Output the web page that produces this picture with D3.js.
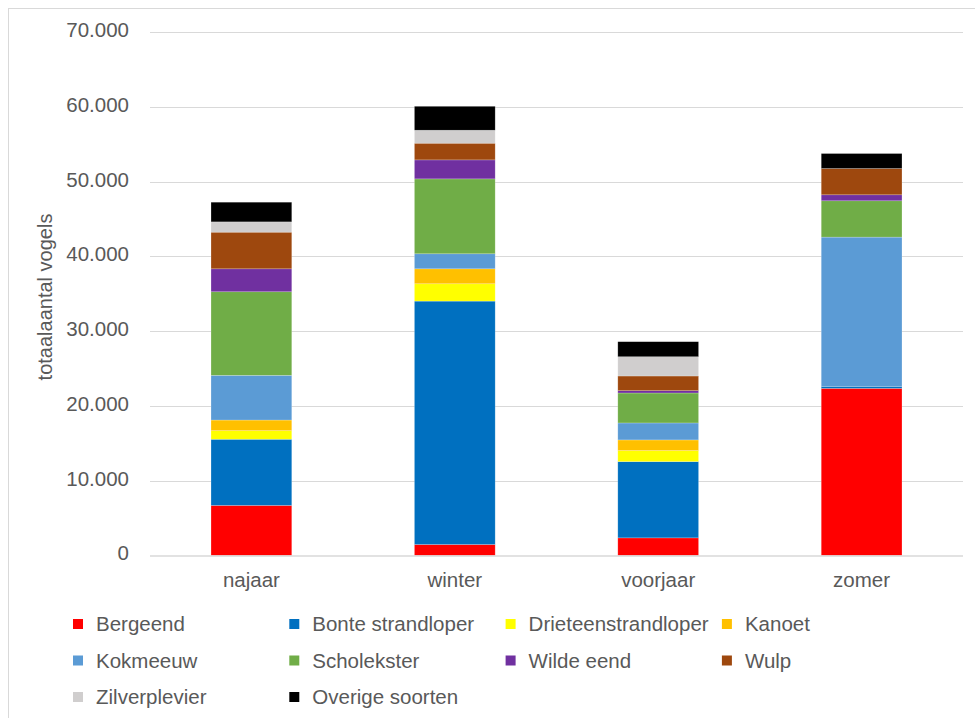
<!DOCTYPE html>
<html>
<head>
<meta charset="utf-8">
<script src="https://cdn.jsdelivr.net/npm/d3@7"></script>
<style>
  html, body { margin: 0; padding: 0; background: #fff; }
  svg { display: block; font-family: "Liberation Sans", Arial, sans-serif; }
</style>
</head>
<body>
<svg id="chart" width="975" height="718"></svg>
<script>
// Seizoenen en soorten
const seasons = ["najaar", "winter", "voorjaar", "zomer"];
const species = ["Bergeend", "Bonte strandloper", "Drieteenstrandloper", "Kanoet",
  "Kokmeeuw", "Scholekster", "Wilde eend", "Wulp", "Zilverplevier", "Overige soorten"];

// Aantallen per soort, in de volgorde van de seizoenen
const bergeend          = [6700, 1470, 2360, 22360];
const bonteStrandloper  = [8850, 32560, 10200, 270];
const drieteen          = [1150, 2320, 1470, 0];
const kanoet            = [1420, 2000, 1430, 0];
const kokmeeuw          = [5980, 2010, 2270, 19960];
const scholekster       = [11180, 10020, 4010, 4860];
const wildeEend         = [3070, 2540, 310, 800];
const wulp              = [4900, 2230, 1960, 3520];
const zilverplevier     = [1380, 1740, 2580, 0];
const overigeSoorten    = [2630, 3200, 2010, 2000];

const yTicks = [0, 10000, 20000, 30000, 40000, 50000, 60000, 70000];

const seriesValues = [bergeend, bonteStrandloper, drieteen, kanoet, kokmeeuw,
  scholekster, wildeEend, wulp, zilverplevier, overigeSoorten];

const colors = ["#FF0000", "#0070C0", "#FFFF00", "#FFC000", "#5B9BD5",
  "#70AD47", "#7030A0", "#9E480E", "#D0CECE", "#000000"];

// Tabel voor d3.stack
const table = seasons.map((s, i) => {
  const row = { season: s };
  species.forEach((sp, j) => { row[sp] = seriesValues[j][i]; });
  return row;
});

const svg = d3.select("#chart");
const textColor = "#595959";
const gridColor = "#d9d9d9";

// Kader rond de grafiek
svg.append("rect")
  .attr("x", 8.5).attr("y", 8.5)
  .attr("width", 975).attr("height", 718)
  .attr("fill", "none").attr("stroke", gridColor).attr("stroke-width", 1);

const x = d3.scaleBand().domain(seasons).range([150, 963]).paddingInner(0.603).paddingOuter(0.3);
const y = d3.scaleLinear().domain([0, 70000]).range([555.5, 32.2]);

const nl = d3.formatLocale({ decimal: ",", thousands: ".", grouping: [3], currency: ["€", ""] });
const fmt = nl.format(",");

// Rasterlijnen
svg.append("g").selectAll("line")
  .data(yTicks.filter(d => d > 0))
  .join("line")
  .attr("x1", 150).attr("x2", 963)
  .attr("y1", d => Math.round(y(d)) + 0.5).attr("y2", d => Math.round(y(d)) + 0.5)
  .attr("stroke", gridColor).attr("stroke-width", 1.2);

// Y-as labels
svg.append("g").selectAll("text")
  .data(yTicks)
  .join("text")
  .attr("x", 129).attr("y", d => y(d) + 4.8)
  .attr("text-anchor", "end")
  .attr("font-size", 20.5)
  .attr("fill", textColor)
  .text(d => fmt(d));

// Gestapelde staven
const stack = d3.stack().keys(species);
const layers = stack(table);

svg.append("g").selectAll("g")
  .data(layers)
  .join("g")
  .attr("fill", (d, i) => colors[i])
  .selectAll("rect")
  .data(d => d)
  .join("rect")
  .attr("x", d => x(d.data.season))
  .attr("width", x.bandwidth())
  .attr("y", d => y(d[1]))
  .attr("height", d => Math.max(0, y(d[0]) - y(d[1])))
  .attr("stroke", "#ffffff").attr("stroke-opacity", 0.35).attr("stroke-width", 0.6);

// X-as lijn
svg.append("line")
  .attr("x1", 150).attr("x2", 963)
  .attr("y1", y(0) + 0.5).attr("y2", y(0) + 0.5)
  .attr("stroke", gridColor).attr("stroke-width", 1.6);

// Categorielabels
svg.append("g").selectAll("text")
  .data(seasons)
  .join("text")
  .attr("x", d => x(d) + x.bandwidth() / 2)
  .attr("y", 587)
  .attr("text-anchor", "middle")
  .attr("font-size", 20.5)
  .attr("fill", textColor)
  .text(d => d);

// Y-as titel
svg.append("text")
  .attr("transform", "translate(52,297) rotate(-90)")
  .attr("text-anchor", "middle")
  .attr("font-size", 20)
  .attr("fill", textColor)
  .text("totaalaantal vogels");

// Legenda
const legend = svg.append("g");
const item = legend.selectAll("g")
  .data(species)
  .join("g")
  .attr("transform", (d, i) => `translate(${73 + (i % 4) * 216.3},${624 + Math.floor(i / 4) * 36.5})`);

item.append("rect")
  .attr("x", 0).attr("y", -5)
  .attr("width", 10).attr("height", 10)
  .attr("fill", (d, i) => colors[i]);

item.append("text")
  .attr("x", 23).attr("y", 7)
  .attr("font-size", 20.5)
  .attr("fill", textColor)
  .text(d => d);
</script>
</body>
</html>
